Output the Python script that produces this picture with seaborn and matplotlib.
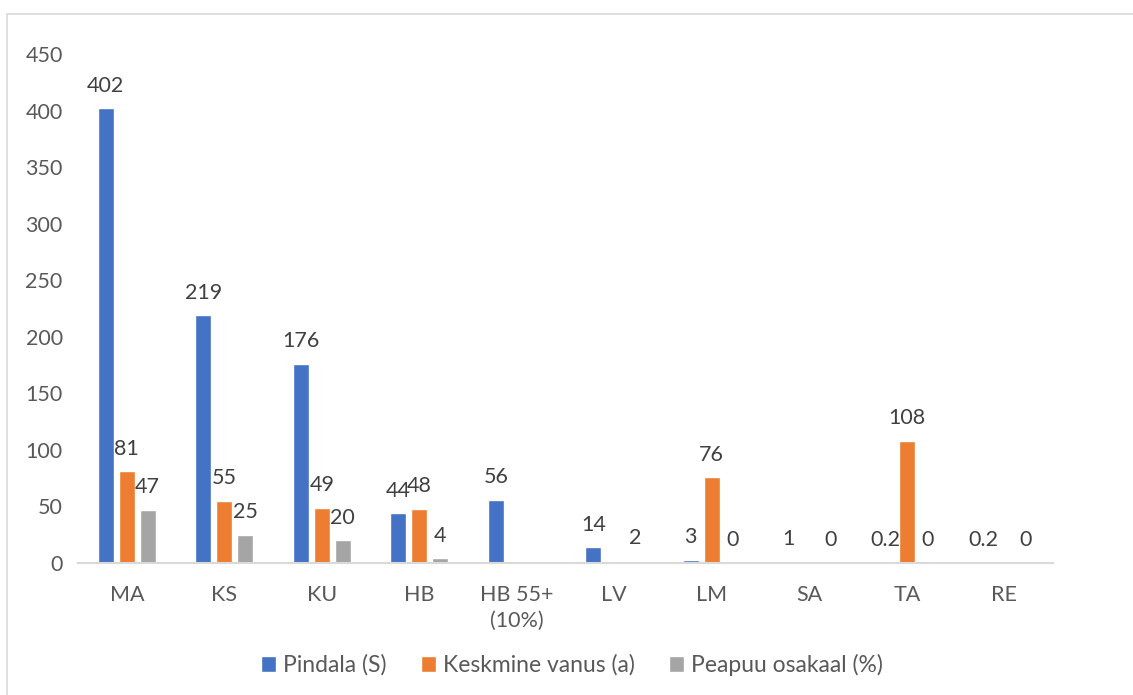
import numpy as np
import pandas as pd
import seaborn as sns
import matplotlib
matplotlib.use("Agg")
import matplotlib.pyplot as plt
from matplotlib.patches import Rectangle

# Categories and series values (NaN = no value for that category)
categories = ["MA", "KS", "KU", "HB", "HB 55+\n(10%)", "LV", "LM", "SA", "TA", "RE"]
pindala = [402, 219, 176, 44, 56, 14, 3, 1, 0.2, 0.2]
vanus = [81, 55, 49, 48, np.nan, np.nan, 76, np.nan, 108, np.nan]
osakaal = [47, 25, 20, 4, np.nan, 2, 0, 0, 0, 0]
series_names = ["Pindala (S)", "Keskmine vanus (a)", "Peapuu osakaal (%)"]
series_colors = ["#4472C4", "#ED7D31", "#A5A5A5"]
y_ticks = [0, 50, 100, 150, 200, 250, 300, 350, 400, 450]

frames = []
for name, vals in zip(series_names, [pindala, vanus, osakaal]):
    frames.append(pd.DataFrame({"kat": categories, "seeria": name, "vaartus": vals}))
df = pd.concat(frames, ignore_index=True)

sns.set_theme(style="white")
plt.rcParams["font.family"] = ["Lato", "DejaVu Sans"]
text_color = "#595959"

W, H = 1133, 695
fig = plt.figure(figsize=(W / 100, H / 100), dpi=100)

# Chart area border
fig.patches.append(Rectangle((7 / W, -0.1), 1.2, 1.1 - 14 / H, transform=fig.transFigure,
                             fill=False, edgecolor="#D9D9D9", linewidth=1.2))

ax = fig.add_axes([78 / W, 1 - 563 / H, (1053 - 78) / W, (563 - 54) / H])
sns.barplot(data=df, x="kat", y="vaartus", hue="seeria", order=categories,
            hue_order=series_names, palette=series_colors, width=0.646, gap=0.22,
            errorbar=None, dodge=True, saturation=1, ax=ax, legend=True)

for cont in ax.containers:
    ax.bar_label(cont, fmt=lambda v: f"{v:g}", padding=9, fontsize=15.5, color="#404040")

ax.set_xlim(-0.5, len(categories) - 0.5)
ax.set_ylim(0, 450)
ax.set_yticks(y_ticks)
ax.set_xlabel("")
ax.set_ylabel("")
ax.tick_params(axis="both", length=0, labelsize=15.5, labelcolor=text_color)
ax.tick_params(axis="x", pad=16)
ax.tick_params(axis="y", pad=11)
for lbl in ax.get_xticklabels():
    lbl.set_linespacing(1.35)
for side in ["left", "right", "top"]:
    ax.spines[side].set_visible(False)
ax.spines["bottom"].set_color("#D9D9D9")
ax.spines["bottom"].set_linewidth(1.5)
ax.grid(False)

handles, labels = ax.get_legend_handles_labels()
ax.legend(handles, labels, loc="center", bbox_to_anchor=(572 / W, 1 - 665 / H),
          bbox_transform=fig.transFigure, ncol=3, frameon=False, fontsize=16.5,
          labelcolor=text_color, handlelength=0.65, handleheight=0.65,
          handletextpad=0.3, columnspacing=1.5)

fig.savefig("out.png", dpi=100)
